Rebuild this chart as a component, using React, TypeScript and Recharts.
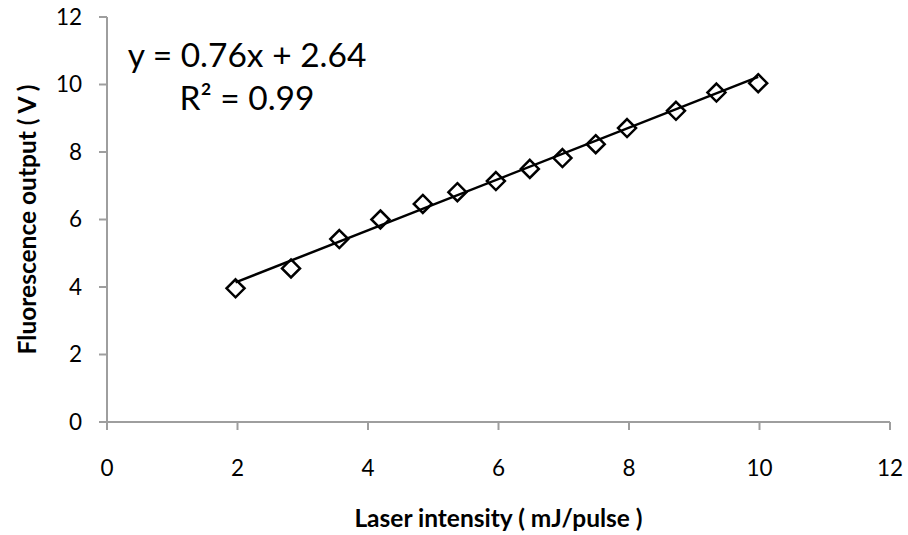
import React from "react"
import {
  ScatterChart,
  Scatter,
  XAxis,
  YAxis,
  Customized,
} from "recharts"

// laser pulse energy (mJ/pulse) and measured fluorescence (V)
const laserIntensity = [1.97, 2.82, 3.56, 4.19, 4.84, 5.37, 5.96, 6.48, 6.98, 7.49, 7.97, 8.72, 9.34, 9.98]
const fluorescence = [3.96, 4.55, 5.42, 6.0, 6.46, 6.81, 7.14, 7.5, 7.82, 8.23, 8.71, 9.22, 9.76, 10.04]

// linear fit shown in the annotation
const slope = 0.76
const intercept = 2.64
const rSquared = 0.99

const xTicks = [0, 2, 4, 6, 8, 10, 12]
const yTicks = [0, 2, 4, 6, 8, 10, 12]

const points = laserIntensity.map((x, i) => ({ x, y: fluorescence[i] }))

const fitX = [laserIntensity[0], laserIntensity[laserIntensity.length - 1]]
const fitLine = fitX.map((x) => ({ x, y: slope * x + intercept }))

const FONT = "Lato, 'Open Sans', sans-serif"
const AXIS_GREY = "#9e9e9e"

const Diamond = (props: any) => {
  const { cx, cy } = props
  const r = 9
  return (
    <path
      d={`M${cx},${cy - r} L${cx + r},${cy} L${cx},${cy + r} L${cx - r},${cy} Z`}
      fill="#fff"
      stroke="#000"
      strokeWidth={2.5}
    />
  )
}

const Equation = () => (
  <g fontFamily={FONT} fontSize={33.5} fill="#000">
    <text x={247} y={67} textAnchor="middle">
      {`y = ${slope.toFixed(2)}x + ${intercept.toFixed(2)}`}
    </text>
    <text x={247} y={110} textAnchor="middle">
      {`R² = ${rSquared.toFixed(2)}`}
    </text>
  </g>
)

export default function App() {
  return (
    <div style={{ position: "absolute", left: 0, top: 0, background: "#fff" }}>
      <ScatterChart
        width={908}
        height={535}
        margin={{ top: 17, right: 18, bottom: 0, left: 0 }}
      >
        <XAxis
          type="number"
          dataKey="x"
          domain={[0, 12]}
          ticks={xTicks}
          interval={0}
          stroke={AXIS_GREY}
          strokeWidth={2}
          tickSize={8}
          tickMargin={30}
          height={113}
          tick={{ fill: "#000", fontSize: 22.5, fontFamily: FONT }}
          label={{
            value: "Laser intensity ( mJ/pulse )",
            position: "insideBottom",
            offset: 8,
            style: { fontFamily: FONT, fontWeight: 700, fontSize: 24.5, fill: "#000" },
          }}
        />
        <YAxis
          type="number"
          dataKey="y"
          domain={[0, 12]}
          ticks={yTicks}
          interval={0}
          stroke={AXIS_GREY}
          strokeWidth={2}
          tickSize={8}
          tickMargin={17}
          width={107}
          tick={{ fill: "#000", fontSize: 22.5, fontFamily: FONT }}
          label={{
            value: "Fluorescence output ( V )",
            angle: -90,
            position: "insideLeft",
            offset: 27,
            style: {
              fontFamily: FONT,
              fontWeight: 700,
              fontSize: 24.5,
              fill: "#000",
              textAnchor: "middle",
            },
          }}
        />
        <Scatter
          data={points}
          shape={Diamond}
          isAnimationActive={false}
        />
        <Scatter
          data={fitLine}
          line={{ stroke: "#000", strokeWidth: 2.5 }}
          shape={() => <g />}
          isAnimationActive={false}
        />
        <Customized component={Equation} />
      </ScatterChart>
    </div>
  )
}
